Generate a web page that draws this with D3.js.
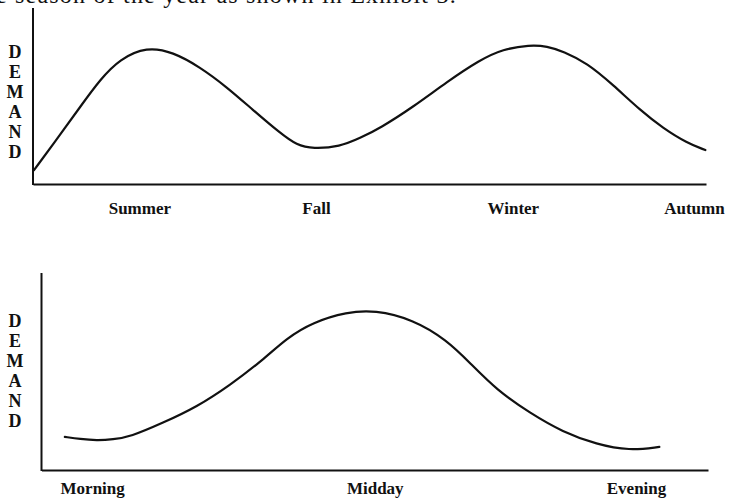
<!DOCTYPE html>
<html>
<head>
<meta charset="utf-8">
<script src="https://cdn.jsdelivr.net/npm/d3@7"></script>
<style>
  body { margin: 0; background: #fff; }
  svg { display: block; }
  text { font-family: "Liberation Serif", "Times New Roman", serif; fill: #111; }
</style>
</head>
<body>
<div id="chart"></div>
<script>
// season chart: x is position along the year axis (0-100), y is demand (0-100)
let seasonLabels = ["Summer", "Fall", "Winter", "Autumn"];
let seasonLabelPos = [15.8, 42.05, 71.3, 98.2];
let seasonX = [0.15, 4.0, 7.0, 10.0, 12.9, 16.9, 20.8, 24.8, 28.8, 32.7, 36.7, 39.2, 41.6, 45.6,
  48.6, 51.6, 56.5, 61.5, 66.4, 69.8, 73.8, 76.4, 78.8, 82.3, 86.2, 90.2, 93.6, 97.2, 99.9];
let seasonDemand = [7.9, 27.8, 43.8, 59.5, 71.0, 78.0, 75.0, 66.5, 55.1, 42.0, 29.0, 22.0, 20.0, 21.2,
  26.1, 31.8, 43.8, 58.0, 70.5, 76.6, 79.0, 78.3, 75.3, 68.8, 56.3, 42.0, 31.8, 23.3, 19.3];

// day chart: x is position along the day axis (0-100)
let dayLabels = ["Morning", "Midday", "Evening"];
let dayLabelPos = [7.6, 50.0, 89.2];
let dayX = [3.5, 5.8, 8.3, 10.7, 13.3, 18.2, 23.3, 28.3, 33.2, 36.8, 40.7, 45.8, 50.0,
  55.7, 60.8, 64.3, 68.3, 73.3, 78.2, 83.3, 88.2, 92.7];
let dayDemand = [16.8, 15.7, 15.0, 15.5, 16.8, 23.9, 32.0, 43.1, 55.8, 67.0, 75.0, 80.2, 81.2,
  76.5, 66.0, 54.3, 40.6, 28.9, 19.3, 13.0, 9.8, 11.7];

let axisLetters = "DEMAND".split("");
let topLine = "e season of the year as shown in Exhibit 3.";

let width = 734, height = 502;

let svg = d3.select("#chart").append("svg")
  .attr("width", width)
  .attr("height", height);

// cut-off line of text from the scanned page above the first chart
svg.append("text")
  .attr("x", -4)
  .attr("y", 3)
  .style("font-size", "24px")
  .style("letter-spacing", "1.2px")
  .text(topLine);

function drawPanel(opts) {
  let x = d3.scaleLinear().domain([0, 100]).range([opts.left, opts.right]);
  let y = d3.scaleLinear().domain([0, 100]).range([opts.bottom, opts.top]);

  let g = svg.append("g");

  // y axis is just a bare line
  g.append("line")
    .attr("x1", opts.left).attr("x2", opts.left)
    .attr("y1", opts.top).attr("y2", opts.bottom + 1)
    .attr("stroke", "#111")
    .attr("stroke-width", 2);

  let xAxis = d3.axisBottom(x)
    .tickValues(opts.labelPos)
    .tickFormat((d, i) => opts.labels[i])
    .tickSize(0)
    .tickPadding(opts.pad);

  let ax = g.append("g")
    .attr("transform", "translate(0," + opts.bottom + ")")
    .call(xAxis);
  ax.select(".domain").attr("stroke", "#111").attr("stroke-width", 2.2);
  ax.selectAll("text")
    .style("font-family", "'Liberation Serif', 'Times New Roman', serif")
    .style("font-size", "17px")
    .style("font-weight", "bold")
    .attr("fill", "#111");

  // vertical DEMAND label, one letter per row
  g.selectAll(".letter")
    .data(axisLetters)
    .enter()
    .append("text")
    .attr("class", "letter")
    .attr("x", 15)
    .attr("y", (d, i) => opts.letterY + i * 20)
    .attr("text-anchor", "middle")
    .style("font-size", "18px")
    .style("font-weight", "bold")
    .text(d => d);

  let pts = opts.xs.map((v, i) => [v, opts.ys[i]]);
  let line = d3.line()
    .x(d => x(d[0]))
    .y(d => y(d[1]))
    .curve(d3.curveBasis);

  g.append("path")
    .attr("d", line(pts))
    .attr("fill", "none")
    .attr("stroke", "#111")
    .attr("stroke-width", 2.2)
    .attr("stroke-linecap", "round");
}

drawPanel({
  left: 33, right: 706, top: 8, bottom: 184, pad: 18, letterY: 58,
  labels: seasonLabels, labelPos: seasonLabelPos, xs: seasonX, ys: seasonDemand
});

drawPanel({
  left: 41.5, right: 708, top: 273, bottom: 470, pad: 12, letterY: 327,
  labels: dayLabels, labelPos: dayLabelPos, xs: dayX, ys: dayDemand
});
</script>
</body>
</html>
